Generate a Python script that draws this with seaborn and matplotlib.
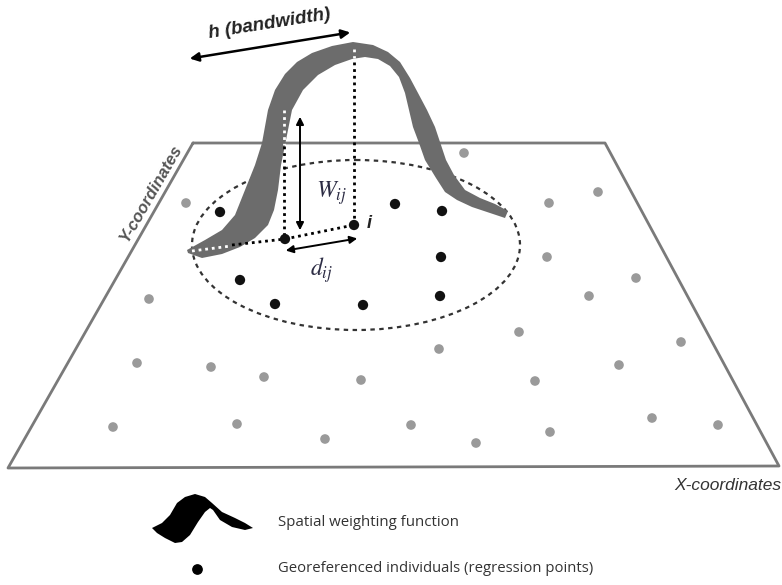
import matplotlib
matplotlib.use("Agg")
import matplotlib.pyplot as plt
import seaborn as sns
import pandas as pd

sns.set_theme(style="white")
plt.rcParams["mathtext.fontset"] = "stix"

# plane corners (image coordinates, y grows downward)
plane_x = [193, 605, 779, 8, 193]
plane_y = [143, 143, 466, 468, 143]

# observations outside the kernel (grey)
grey_x = [464, 186, 598, 549, 547, 636, 149, 589, 519, 439, 681, 137, 211, 264, 361, 535, 619,
          113, 237, 325, 411, 476, 550, 652, 718]
grey_y = [153, 203, 192, 203, 257, 278, 299, 296, 332, 349, 342, 363, 367, 377, 380, 381, 365,
          427, 424, 439, 425, 443, 432, 418, 425]

# regression points inside the bandwidth (black)
black_x = [220, 395, 442, 441, 240, 275, 363, 440, 285, 354]
black_y = [212, 204, 211, 257, 280, 304, 305, 296, 239, 225]

# kernel ribbon outline
rib_outer_x = [187, 205, 222, 235, 245, 255, 262, 268, 275, 285, 297, 312, 332, 353, 373, 388,
               400, 410, 418, 427, 435, 441, 446, 454, 465, 480, 495, 508]
rib_outer_y = [250, 240, 230, 215, 190, 165, 143, 110, 90, 74, 62, 53, 46, 42, 45, 52,
               62, 78, 93, 110, 127, 145, 160, 175, 190, 198, 204, 211]
rib_inner_x = [505, 490, 472, 457, 445, 436, 425, 419, 413, 409, 405, 399, 390, 378, 365, 352,
               335, 318, 303, 292, 286, 281, 278, 274, 268, 255, 240, 222, 202, 188]
rib_inner_y = [218, 213, 207, 200, 192, 178, 160, 143, 127, 110, 93, 77, 66, 59, 57, 59,
               65, 75, 90, 110, 140, 165, 190, 210, 225, 238, 247, 254, 258, 253]

# legend icon
icon_x = [152, 162, 170, 177, 185, 195, 205, 212, 222, 235, 245, 253, 245, 232, 220, 213, 210,
          205, 198, 190, 182, 175, 165, 157]
icon_y = [528, 523, 515, 503, 497, 494, 497, 503, 512, 518, 523, 528, 530, 527, 520, 510, 508,
          512, 522, 535, 542, 543, 538, 533]

fig = plt.figure(figsize=(7.82, 5.85), dpi=100)
ax = fig.add_axes([0, 0, 1, 1])

ax.plot(plane_x, plane_y, color="#7a7a7a", lw=2)

# bandwidth circle
ell = matplotlib.patches.Ellipse((356, 245), 328, 170, fill=False, ec="#333333",
                                 lw=1.6, ls=(0, (2, 2)))
ax.add_patch(ell)

pts = pd.DataFrame({"x": grey_x + black_x, "y": grey_y + black_y,
                    "kind": ["out"] * len(grey_x) + ["in"] * len(black_x)})
sns.scatterplot(data=pts[pts.kind == "out"], x="x", y="y", color="#9a9a9a", s=48,
                edgecolor="none", ax=ax, legend=False)

# kernel ribbon
ax.fill(rib_outer_x + rib_inner_x, rib_outer_y + rib_inner_y, color="#6c6c6c", lw=0, zorder=3)

# dotted guides
dot = (0, (1, 1.4))
ax.plot([284, 284], [146, 239], color="black", lw=2, ls=dot, zorder=4)
ax.plot([284, 284], [110, 145], color="white", lw=2, ls=dot, zorder=4)
ax.plot([354, 354], [62, 225], color="black", lw=2, ls=dot, zorder=4)
ax.plot([354, 354], [49, 58], color="white", lw=2, ls=dot, zorder=4)
ax.plot([285, 354], [239, 225], color="black", lw=2, ls=dot, zorder=4)
ax.plot([232, 285], [245, 239], color="black", lw=2, ls=dot, zorder=4)
ax.plot([192, 231], [251, 246], color="white", lw=2, ls=dot, zorder=4)

sns.scatterplot(data=pts[pts.kind == "in"], x="x", y="y", color="#111111", s=55,
                edgecolor="none", ax=ax, legend=False, zorder=5)

arr = dict(arrowstyle="<|-|>", color="black", lw=1.4, mutation_scale=11)
ax.annotate("", xy=(300, 114), xytext=(300, 233), arrowprops=arr)
ax.annotate("", xy=(283, 251), xytext=(360, 238), arrowprops=arr)
ax.annotate("", xy=(187, 59), xytext=(353, 32), arrowprops=dict(arr, lw=1.8, mutation_scale=13))

ax.text(270, 24, "h (bandwidth)", rotation=9, ha="center", va="center", fontsize=13.5,
        fontweight="bold", style="italic", family="Liberation Sans", color="#222222")
ax.text(331, 193, r"$W_{ij}$", ha="center", va="center", fontsize=17, color="#2c2c44")
ax.text(322, 270, r"$d_{ij}$", ha="center", va="center", fontsize=17, color="#2c2c44")
ax.text(369, 223, "i", ha="center", va="center", fontsize=13, style="italic",
        fontweight="bold", family="Liberation Sans", color="#222222")
ax.text(151, 193, "Y-coordinates", rotation=60, ha="center", va="center", fontsize=12,
        fontweight="bold", style="italic", family="Liberation Sans", color="#555555")
ax.text(781, 486, "X-coordinates", ha="right", va="center", fontsize=12.5,
        style="italic", family="Liberation Sans", color="#333333")

# legend
ax.fill(icon_x, icon_y, color="black", lw=0)
ax.scatter([197], [569], s=45, color="black")
ax.text(278, 522, "Spatial weighting function", ha="left", va="center", fontsize=10.8,
        family="Open Sans", color="#333333")
ax.text(278, 568, "Georeferenced individuals (regression points)", ha="left", va="center",
        fontsize=10.7, family="Open Sans", color="#333333")

ax.set_xlim(0, 782)
ax.set_ylim(585, 0)
ax.axis("off")
fig.savefig("out.png", dpi=100)
